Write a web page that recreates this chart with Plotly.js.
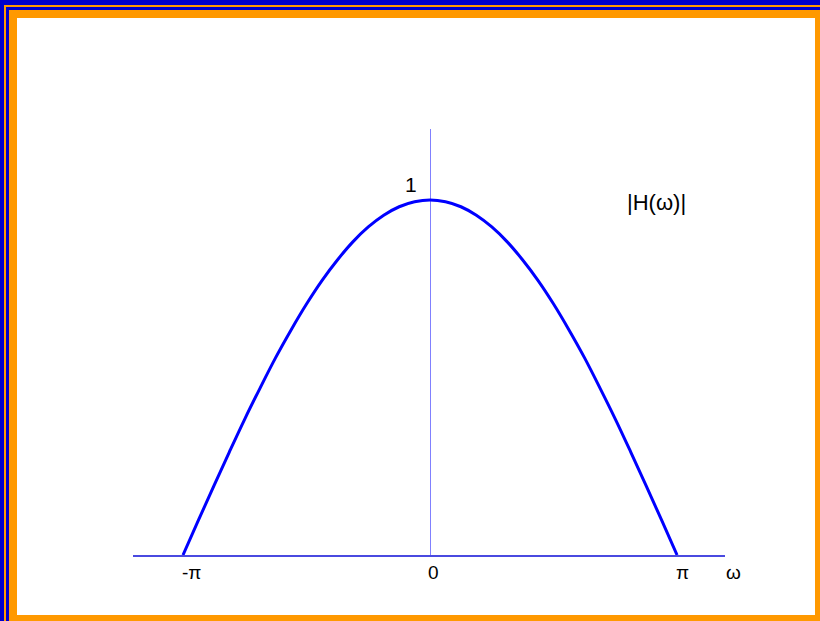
<!DOCTYPE html>
<html>
<head>
<meta charset="utf-8">
<script src="https://cdn.plot.ly/plotly-3.0.1.min.js"></script>
<style>
  body { margin:0; padding:0; background:#ffffff; }
  .r { position:absolute; right:0; bottom:0; }
</style>
</head>
<body>
<div style="position:absolute;left:0;top:0;width:820px;height:621px;overflow:hidden;">
  <div class="r" style="left:0;top:0;background:#0000cc;"></div>
  <div class="r" style="left:4px;top:5px;background:#ff9900;"></div>
  <div class="r" style="left:6px;top:7px;background:#0000cc;"></div>
  <div class="r" style="left:9px;top:10px;background:#ff9900;"></div>
  <div id="plot" style="position:absolute;left:17px;top:18px;width:798px;height:597px;"></div>
</div>
<script>
// frequency in units of pi
const omegaOverPi = [-1, -0.9375, -0.875, -0.8125, -0.75, -0.6875, -0.625, -0.5625, -0.5, -0.4375, -0.375, -0.3125, -0.25, -0.1875, -0.125, -0.0625, 0,
                     0.0625, 0.125, 0.1875, 0.25, 0.3125, 0.375, 0.4375, 0.5, 0.5625, 0.625, 0.6875, 0.75, 0.8125, 0.875, 0.9375, 1];
const magnitude = [0, 0.098, 0.195, 0.29, 0.383, 0.471, 0.556, 0.634, 0.707, 0.773, 0.831, 0.882, 0.924, 0.957, 0.981, 0.995, 1,
                   0.995, 0.981, 0.957, 0.924, 0.882, 0.831, 0.773, 0.707, 0.634, 0.556, 0.471, 0.383, 0.29, 0.195, 0.098, 0];
const tickLabels = ["-π", "0", "π", "ω"];
const tickPos = [-0.964, 0.016, 1.022, 1.227];

const xr = [-1.2024, 1.194], yr = [0, 1.2];
const px = v => (v - xr[0]) / (xr[1] - xr[0]);
const py = v => (v - yr[0]) / (yr[1] - yr[0]);

const fam = "Liberation Sans, Arial, sans-serif";
const font = {family: fam, size: 19, color: "#000000"};

const annotations = tickLabels.map((t, i) => ({
  x: px(tickPos[i]), y: py(-0.048), xref: "paper", yref: "paper", text: t, showarrow: false,
  xanchor: "center", yanchor: "middle", font: font
}));
annotations.push({x: px(-0.077), y: py(1.045), xref: "paper", yref: "paper", text: "1", showarrow: false, xanchor: "center", yanchor: "middle", font: {family: fam, size: 21, color: "#000"}});
annotations.push({x: px(0.915), y: py(0.992), xref: "paper", yref: "paper", text: "|H(ω)|", showarrow: false, xanchor: "center", yanchor: "middle", font: {family: fam, size: 22, color: "#000"}});

const trace = {
  x: omegaOverPi, y: magnitude, type: "scatter", mode: "lines",
  line: {color: "#0000ff", width: 3, shape: "spline", smoothing: 1},
  hoverinfo: "none", cliponaxis: false
};

const layout = {
  width: 798, height: 597,
  margin: {l: 116, r: 90, t: 111, b: 60, pad: 0},
  paper_bgcolor: "#ffffff", plot_bgcolor: "#ffffff",
  showlegend: false,
  xaxis: {range: xr, showgrid: false, showticklabels: false, ticks: "",
          zeroline: true, zerolinecolor: "#8080ff", zerolinewidth: 1,
          showline: true, linecolor: "#4a4ae0", linewidth: 1.5, fixedrange: true},
  yaxis: {range: yr, showgrid: false, showticklabels: false, ticks: "",
          zeroline: false, showline: false, fixedrange: true},
  annotations: annotations
};

Plotly.newPlot("plot", [trace], layout, {displayModeBar: false, staticPlot: true});
</script>
</body>
</html>
